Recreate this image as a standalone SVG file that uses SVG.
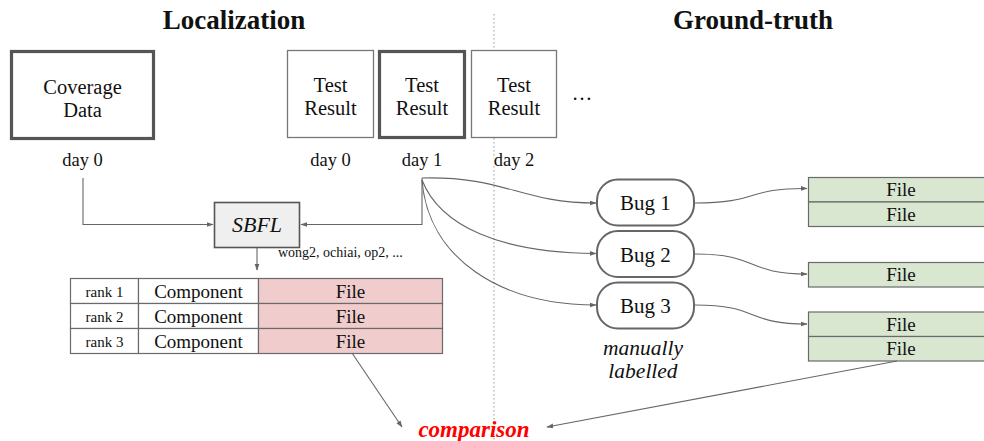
<svg xmlns="http://www.w3.org/2000/svg" width="984" height="441" viewBox="0 0 984 441">
  <defs>
    <marker id="arrow" viewBox="0 0 10 10" refX="9" refY="5" markerWidth="7" markerHeight="7" orient="auto" markerUnits="userSpaceOnUse">
      <path d="M0,1.5 L10,5 L0,8.5 z" fill="#666"/>
    </marker>
    <style>
      text { font-family: "Liberation Serif", "DejaVu Serif", serif; fill: #111; }
      .title { font-size: 27px; font-weight: bold; text-anchor: middle; }
      .box { font-size: 20.5px; text-anchor: middle; }
      .cellt { font-size: 19px; text-anchor: middle; }
      .bug { font-size: 21px; text-anchor: middle; }
      .day { font-size: 18.5px; text-anchor: middle; }
      .small { font-size: 15px; text-anchor: middle; }
      .note { font-size: 14px; }
      .it { font-style: italic; }
      .thin { fill: #fff; stroke: #777; stroke-width: 1.3; }
      .thick { fill: #fff; stroke: #555; stroke-width: 3.2; }
      .cell { stroke: #6a6a6a; stroke-width: 1.2; }
      .pink { fill: #f0cccc; }
      .green { fill: #d9e7d1; }
      .white { fill: #fff; }
      .pill { fill: #fff; stroke: #666; stroke-width: 2; }
      .conn { fill: none; stroke: #666; stroke-width: 1.1; }
    </style>
  </defs>

  <rect width="984" height="441" fill="#fff"/>

  <!-- section headings and divider -->
  <text class="title" x="234" y="29">Localization</text>
  <text class="title" x="753" y="29">Ground-truth</text>
  <line x1="494" y1="14" x2="494" y2="441" stroke="#999" stroke-width="1" stroke-dasharray="1.5,2.5"/>

  <!-- inputs -->
  <g id="coverage">
    <rect class="thick" x="11.5" y="51.5" width="142" height="87"/>
    <text class="box" x="82.5" y="94">Coverage</text>
    <text class="box" x="82.5" y="117">Data</text>
    <text class="day" x="82.5" y="166">day 0</text>
  </g>
  <g id="test-day0">
    <rect class="thin" x="287.5" y="50.5" width="86" height="87"/>
    <text class="box" x="330.5" y="91.5">Test</text>
    <text class="box" x="330.5" y="114.5">Result</text>
    <text class="day" x="330.5" y="166">day 0</text>
  </g>
  <g id="test-day1">
    <rect class="thick" x="379.5" y="51.5" width="85" height="86"/>
    <text class="box" x="422" y="91.5">Test</text>
    <text class="box" x="422" y="114.5">Result</text>
    <text class="day" x="422" y="166">day 1</text>
  </g>
  <g id="test-day2">
    <rect class="thin" x="471.5" y="50.5" width="85" height="87"/>
    <text class="box" x="514" y="91.5">Test</text>
    <text class="box" x="514" y="114.5">Result</text>
    <text class="day" x="514" y="166" style="paint-order:stroke" stroke="#fff" stroke-width="3">day 2</text>
  </g>
  <text class="box" x="582" y="100">…</text>

  <!-- SBFL -->
  <g id="sbfl">
    <rect x="214.5" y="202.5" width="85" height="45" fill="#efefef" stroke="#555" stroke-width="1.6"/>
    <text class="box it" x="257" y="232" style="font-size:22px">SBFL</text>
    <text class="note" x="278" y="257">wong2, ochiai, op2, ...</text>
  </g>

  <!-- ranking -->
  <g id="ranking">
    <rect class="cell white" x="70.5" y="278.5" width="68" height="25"/>
    <rect class="cell white" x="138.5" y="278.5" width="120" height="25"/>
    <rect class="cell pink" x="258.5" y="278.5" width="184" height="25"/>
    <rect class="cell white" x="70.5" y="303.5" width="68" height="25"/>
    <rect class="cell white" x="138.5" y="303.5" width="120" height="25"/>
    <rect class="cell pink" x="258.5" y="303.5" width="184" height="25"/>
    <rect class="cell white" x="70.5" y="328.5" width="68" height="25"/>
    <rect class="cell white" x="138.5" y="328.5" width="120" height="25"/>
    <rect class="cell pink" x="258.5" y="328.5" width="184" height="25"/>
    <text class="small" x="104.5" y="297">rank 1</text>
    <text class="small" x="104.5" y="322">rank 2</text>
    <text class="small" x="104.5" y="347">rank 3</text>
    <text class="cellt" x="198.5" y="298">Component</text>
    <text class="cellt" x="198.5" y="323">Component</text>
    <text class="cellt" x="198.5" y="348">Component</text>
    <text class="cellt" x="350.5" y="298">File</text>
    <text class="cellt" x="350.5" y="323">File</text>
    <text class="cellt" x="350.5" y="348">File</text>
  </g>

  <!-- bugs -->
  <g id="bug1">
    <rect class="pill" x="597" y="179.5" width="97" height="46" rx="21"/>
    <text class="bug" x="645.5" y="210">Bug 1</text>
  </g>
  <g id="bug2">
    <rect class="pill" x="597" y="231" width="97" height="46" rx="21"/>
    <text class="bug" x="645.5" y="262">Bug 2</text>
  </g>
  <g id="bug3">
    <rect class="pill" x="597" y="282.5" width="97" height="46" rx="21"/>
    <text class="bug" x="645.5" y="313">Bug 3</text>
  </g>
  <text class="box it" x="643" y="355" style="font-size:21.5px">manually</text>
  <text class="box it" x="643" y="377.5" style="font-size:21.5px">labelled</text>

  <!-- ground-truth files -->
  <g id="files-bug1">
    <rect class="cell green" x="808.5" y="177.5" width="186" height="24.5"/>
    <rect class="cell green" x="808.5" y="202" width="186" height="24.5"/>
    <text class="cellt" x="901" y="196">File</text>
    <text class="cellt" x="901" y="220.5">File</text>
  </g>
  <g id="files-bug2">
    <rect class="cell green" x="808.5" y="262.5" width="186" height="24.5"/>
    <text class="cellt" x="901" y="281">File</text>
  </g>
  <g id="files-bug3">
    <rect class="cell green" x="808.5" y="312" width="186" height="24.5"/>
    <rect class="cell green" x="808.5" y="336.5" width="186" height="24.5"/>
    <text class="cellt" x="901" y="330.5">File</text>
    <text class="cellt" x="901" y="355">File</text>
  </g>

  <text x="474" y="437" text-anchor="middle" style="font-size:23px;font-weight:bold;font-style:italic;fill:#f00">comparison</text>

  <!-- connectors -->
  <g id="connectors">
    <path class="conn" d="M83,178 V224.5 H213" marker-end="url(#arrow)"/>
    <path class="conn" d="M422,178 V224.5 H301" marker-end="url(#arrow)"/>
    <path class="conn" d="M257,248 V270" marker-end="url(#arrow)"/>
    <path class="conn" d="M422,178 C505,176 520,203 596,203" marker-end="url(#arrow)"/>
    <path class="conn" d="M422,180 C440,226 500,253 596,253.5" marker-end="url(#arrow)"/>
    <path class="conn" d="M422,180 C428,258 500,305 596,305" marker-end="url(#arrow)"/>
    <path class="conn" d="M695,203 C760,203 745,188 807,188.5" marker-end="url(#arrow)"/>
    <path class="conn" d="M695,254 C760,254 745,274 807,274" marker-end="url(#arrow)"/>
    <path class="conn" d="M695,305 C760,305 745,324 807,324" marker-end="url(#arrow)"/>
    <path class="conn" d="M352,353 L402,427" marker-end="url(#arrow)"/>
    <path class="conn" d="M897,361 L547,427" marker-end="url(#arrow)"/>
  </g>
</svg>
